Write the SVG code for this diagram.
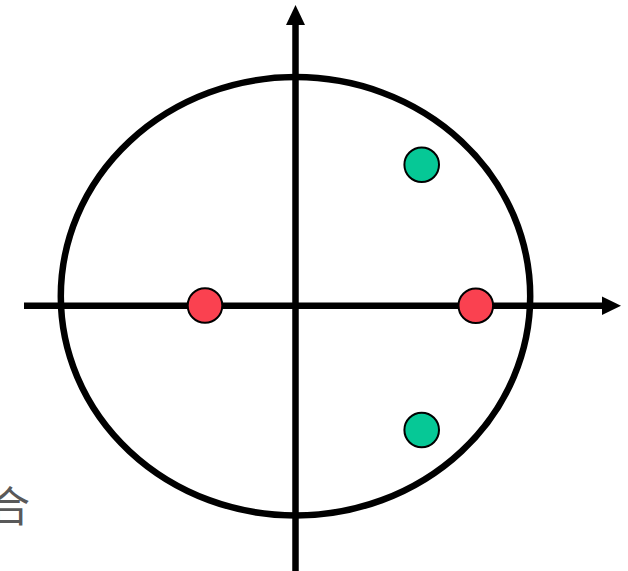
<svg xmlns="http://www.w3.org/2000/svg" width="628" height="571" viewBox="0 0 628 571">
<defs>
<style>
.ax{stroke:#000;stroke-width:6.5;fill:none}
.red{fill:#FA4150;stroke:#000;stroke-width:2}
.grn{fill:#06C896;stroke:#000;stroke-width:2}
.lbl{font-family:"Noto Sans CJK SC","Noto Sans CJK JP",sans-serif;fill:#595959}
</style>
</defs>
<rect width="628" height="571" fill="#fff"/>
<g id="circle"><ellipse cx="295.5" cy="296.3" rx="234.7" ry="219.2" class="ax"/></g>
<g id="connectors">
<line x1="24" y1="305.7" x2="604" y2="305.7" class="ax"/>
<polygon points="602,296.5 621,305.7 602,315" fill="#000"/>
<line x1="295.5" y1="571" x2="295.5" y2="24" class="ax"/>
<polygon points="286,25 295.5,5 305,25" fill="#000"/>
</g>
<g id="red-left"><circle cx="205" cy="305.5" r="17.3" class="red"/></g>
<g id="red-right"><circle cx="475.8" cy="305.7" r="17.3" class="red"/></g>
<g id="green-top"><circle cx="421.7" cy="164.7" r="17.3" class="grn"/></g>
<g id="green-bottom"><circle cx="421.7" cy="430" r="17.3" class="grn"/></g>
<g id="label"><text x="30" y="522" font-size="42" text-anchor="end" class="lbl">合</text></g>
</svg>
